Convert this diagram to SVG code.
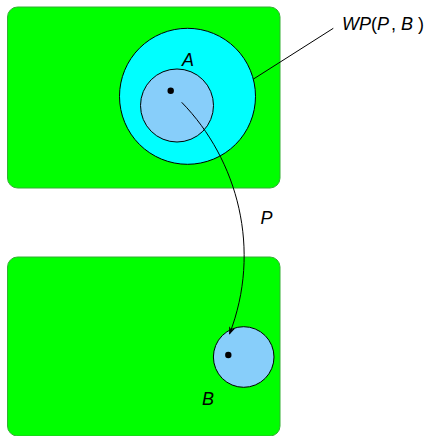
<svg xmlns="http://www.w3.org/2000/svg" width="430" height="436" viewBox="0 0 430 436">
<style>
.box{fill:#00ff00;stroke:#33b033;stroke-width:1}
.c{stroke:#000;stroke-width:1}
.lbl{font-family:"Liberation Sans",Arial,sans-serif;font-style:italic;font-size:18px;fill:#000}
.wp{font-family:"Liberation Sans",Arial,sans-serif;font-size:18px;fill:#000}
</style>
<defs>
<marker id="ah" viewBox="0 0 10 10" refX="9" refY="5" markerWidth="8" markerHeight="8" orient="auto" markerUnits="userSpaceOnUse">
<path d="M0,1 L10,5 L0,9 L3,5 Z" fill="#000"/>
</marker>
</defs>
<g id="top-region"><rect class="box" x="7.5" y="7" width="272.5" height="181" rx="10"/></g>
<g id="bottom-region"><rect class="box" x="7.5" y="257" width="272.5" height="179" rx="10"/></g>
<g id="WP"><circle cx="187.5" cy="96.3" r="68" fill="#00ffff" class="c"/></g>
<g id="A"><circle cx="177" cy="105.5" r="36.5" fill="#87cefa" class="c"/><circle cx="170.7" cy="90.7" r="3.2" fill="#000"/><text class="lbl" x="182" y="65.7">A</text></g>
<g id="B"><circle cx="243.7" cy="357" r="30.3" fill="#87cefa" class="c"/><circle cx="228.3" cy="355" r="3.2" fill="#000"/><text class="lbl" x="202" y="405">B</text></g>
<g id="connectors" fill="none" stroke="#000" stroke-width="1">
<path d="M181.7,102.3 C238,160 262,250 229.5,334" marker-end="url(#ah)"/>
<line x1="333.3" y1="28.3" x2="253.5" y2="79"/>
</g>
<g id="labels">
<text class="lbl" x="260.5" y="223.5">P</text>
<text class="wp" y="29.5"><tspan x="342" font-style="italic">WP</tspan><tspan x="371">(</tspan><tspan x="377" font-style="italic">P</tspan><tspan x="391">,</tspan><tspan x="401" font-style="italic">B</tspan><tspan x="418">)</tspan></text>
</g>
</svg>
